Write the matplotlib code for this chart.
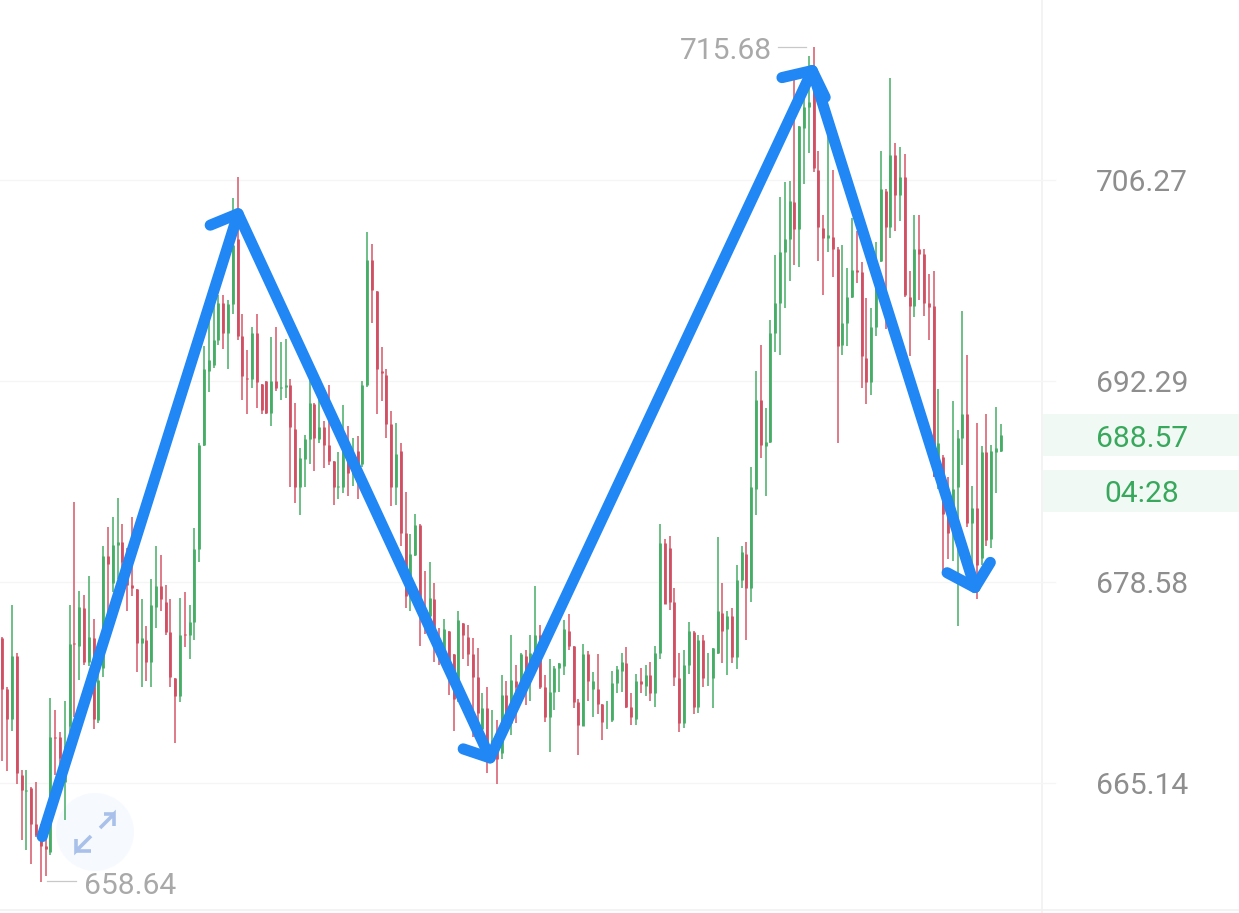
"""
Candlestick chart with hand-drawn zigzag arrows on a log price axis.
"""

import numpy as np
import matplotlib
matplotlib.use("Agg")
from matplotlib import pyplot as plt
from matplotlib.patches import Circle, Rectangle

opens = [
    674.8, 671.4, 669.4, 673.6, 665.7, 664.6, 664.8, 662.4, 661.6, 661.0,
    660.6, 668.2, 668.2, 665.2, 668.9, 674.5, 674.3, 676.8, 673.2, 674.8,
    669.3, 672.8, 680.3, 678.5, 681.1, 681.3, 679.9, 678.4, 678.1, 674.5,
    674.7, 673.2, 676.9, 678.3, 677.2, 675.2, 672.1, 670.9, 675.1, 675.0,
    675.9, 680.8, 687.9, 693.0, 693.4, 695.1, 697.7, 695.6, 697.6, 702.1,
    695.4, 692.5, 692.4, 695.6, 692.1, 692.3, 690.1, 692.3, 691.8, 691.9,
    692.0, 689.0, 685.0, 686.9, 688.3, 690.7, 688.3, 689.1, 687.9, 686.8,
    685.0, 685.0, 687.0, 685.9, 687.5, 686.6, 692.0, 700.7, 698.5, 693.0,
    692.7, 689.3, 685.0, 687.5, 681.9, 677.6, 680.4, 682.4, 676.7, 676.3,
    677.4, 674.4, 673.6, 675.3, 673.7, 670.9, 675.8, 674.9, 673.7, 672.2,
    668.7, 670.1, 667.8, 667.8, 667.1, 671.0, 669.1, 671.9, 671.7, 673.6,
    672.3, 673.8, 675.0, 671.5, 669.5, 671.2, 672.8, 672.9, 675.3, 674.3,
    670.5, 668.9, 673.7, 671.4, 671.4, 670.4, 669.3, 669.3, 671.8, 672.6,
    673.1, 670.2, 669.4, 671.9, 671.6, 672.3, 671.1, 673.8, 681.2, 680.9,
    677.2, 672.1, 669.1, 673.0, 675.2, 670.2, 674.7, 672.1, 672.1, 673.8,
    676.5, 675.4, 676.3, 673.5, 678.7, 680.5, 678.2, 684.9, 691.0, 687.8,
    688.1, 695.6, 697.7, 701.2, 702.1, 704.7, 702.8, 709.9, 711.4, 712.9,
    707.0, 702.9, 702.2, 702.3, 701.4, 694.8, 696.3, 698.1, 700.0, 699.8,
    693.9, 692.2, 696.0, 700.6, 705.5, 703.0, 708.0, 705.2, 706.5, 698.1,
    697.5, 701.4, 701.1, 697.7, 697.5, 685.9, 687.1, 683.2, 681.9, 685.0,
    688.4, 690.0, 682.6, 683.6, 680.2, 687.4, 681.5, 687.4, 687.5,
]
closes = [
    671.4, 669.4, 673.6, 665.8, 664.7, 664.7, 662.4, 661.7, 661.0, 660.8,
    668.2, 668.1, 666.8, 667.6, 674.4, 674.4, 676.9, 673.2, 674.9, 669.4,
    672.0, 680.3, 679.8, 681.1, 681.3, 679.9, 678.4, 678.2, 674.5, 674.8,
    673.2, 677.0, 678.3, 677.4, 675.2, 672.2, 670.9, 675.0, 675.0, 675.9,
    680.8, 687.9, 693.1, 693.7, 695.1, 697.7, 695.6, 697.6, 701.7, 695.4,
    692.6, 692.4, 695.6, 692.2, 690.3, 690.1, 692.3, 691.8, 691.9, 692.0,
    689.1, 685.0, 687.0, 688.3, 690.8, 688.4, 689.1, 687.9, 686.8, 685.0,
    685.1, 687.9, 686.0, 687.3, 685.4, 692.0, 700.7, 698.6, 693.1, 692.8,
    689.3, 685.0, 687.3, 681.9, 677.6, 680.5, 682.4, 676.7, 676.3, 677.5,
    674.4, 673.6, 675.4, 672.4, 670.7, 676.0, 675.0, 673.7, 672.2, 669.8,
    670.1, 667.8, 668.0, 666.7, 671.0, 669.6, 672.0, 671.5, 673.7, 672.3,
    673.8, 675.0, 671.5, 669.5, 671.2, 672.8, 673.1, 675.4, 674.3, 670.5,
    669.0, 673.7, 671.9, 671.9, 670.4, 669.2, 669.3, 671.8, 672.7, 673.2,
    670.2, 669.5, 671.9, 671.7, 672.3, 671.1, 673.8, 681.2, 677.1, 677.2,
    672.2, 669.1, 673.0, 675.3, 670.2, 674.7, 672.1, 672.1, 674.1, 676.6,
    675.3, 676.3, 673.5, 678.7, 680.6, 678.2, 685.0, 691.0, 687.9, 688.1,
    695.6, 697.7, 701.2, 702.1, 704.8, 702.8, 710.1, 711.4, 711.8, 707.1,
    703.0, 702.2, 702.4, 701.4, 694.7, 696.3, 698.1, 700.0, 699.8, 694.0,
    692.2, 696.0, 698.7, 705.6, 703.0, 708.0, 705.2, 706.5, 698.2, 697.5,
    701.4, 701.1, 697.7, 697.4, 685.8, 688.0, 683.2, 681.9, 684.9, 688.4,
    690.0, 682.6, 683.6, 679.7, 687.4, 681.4, 687.5, 687.7, 688.57,
]
highs = [
    674.9, 671.5, 677.0, 673.8, 666.0, 666.0, 664.9, 665.2, 662.4, 663.3,
    670.8, 670.0, 668.5, 670.6, 677.0, 684.0, 678.0, 677.7, 679.0, 676.1,
    672.9, 681.0, 682.3, 683.0, 684.3, 682.5, 680.9, 683.0, 678.1, 677.4,
    675.6, 678.8, 681.0, 680.4, 678.4, 677.4, 672.1, 677.5, 677.9, 677.0,
    682.2, 688.0, 694.7, 696.8, 697.7, 698.2, 698.2, 697.9, 705.0, 706.5,
    696.9, 694.4, 696.0, 696.9, 692.1, 692.3, 695.3, 696.0, 695.0, 695.2,
    692.4, 690.8, 687.7, 688.6, 692.8, 690.8, 691.2, 689.5, 692.0, 686.8,
    687.4, 690.6, 689.2, 688.4, 688.5, 692.3, 702.6, 701.8, 698.5, 694.6,
    693.1, 690.2, 689.4, 688.0, 684.7, 681.8, 683.2, 682.5, 679.3, 679.9,
    678.5, 675.5, 676.1, 675.3, 673.7, 676.6, 675.8, 675.7, 674.8, 674.1,
    671.1, 671.5, 670.0, 669.3, 672.3, 671.9, 675.0, 673.0, 673.8, 674.0,
    675.0, 678.3, 675.7, 672.3, 673.4, 672.9, 673.1, 676.0, 676.4, 674.3,
    670.7, 674.4, 673.9, 672.5, 673.7, 670.4, 670.6, 672.6, 672.9, 673.8,
    674.2, 671.1, 672.4, 672.8, 673.0, 673.2, 674.3, 682.5, 681.5, 681.7,
    678.2, 673.8, 674.0, 675.9, 675.3, 675.0, 675.0, 673.8, 674.1, 681.6,
    678.5, 676.6, 676.8, 679.7, 681.0, 681.3, 686.4, 693.0, 694.8, 690.4,
    696.5, 701.0, 705.1, 706.1, 706.2, 713.4, 710.1, 712.1, 715.0, 715.68,
    708.3, 703.8, 709.7, 707.0, 701.6, 701.7, 700.1, 703.6, 702.7, 700.5,
    698.0, 697.3, 701.9, 708.3, 705.6, 713.5, 708.9, 708.6, 708.1, 699.9,
    703.8, 703.8, 701.4, 699.7, 699.9, 691.7, 687.2, 685.7, 690.9, 688.9,
    697.1, 694.1, 685.1, 689.4, 687.8, 690.0, 687.9, 690.5, 689.3,
]
lows = [
    666.6, 665.9, 668.6, 665.1, 661.4, 660.7, 659.8, 661.6, 658.64, 659.0,
    660.4, 665.7, 665.9, 662.7, 668.4, 669.5, 672.0, 673.0, 672.9, 668.7,
    669.1, 672.2, 676.5, 677.9, 678.8, 678.8, 676.6, 677.6, 672.5, 671.5,
    671.9, 671.5, 675.5, 676.6, 675.0, 671.5, 667.8, 670.5, 674.2, 673.4,
    674.7, 679.9, 687.8, 691.5, 693.2, 694.8, 694.5, 693.1, 696.9, 695.1,
    691.0, 690.0, 691.8, 690.4, 690.0, 690.0, 689.2, 691.6, 691.0, 691.1,
    685.0, 683.9, 683.1, 685.0, 686.6, 686.1, 688.0, 686.3, 686.5, 683.8,
    684.2, 684.6, 684.4, 685.1, 684.2, 686.4, 691.9, 696.3, 690.0, 690.9,
    688.4, 683.7, 683.8, 681.0, 676.8, 676.6, 680.3, 674.3, 675.1, 676.1,
    673.2, 673.0, 672.7, 671.0, 668.6, 670.5, 673.4, 672.9, 668.2, 668.0,
    668.2, 665.8, 667.8, 665.1, 666.7, 669.1, 668.3, 669.1, 670.7, 670.3,
    670.6, 672.7, 671.4, 669.2, 667.2, 670.0, 671.2, 672.3, 674.0, 670.1,
    667.0, 668.9, 670.6, 669.5, 669.7, 668.0, 668.7, 669.2, 671.1, 671.2,
    670.1, 669.0, 669.0, 671.1, 670.9, 670.6, 670.2, 673.4, 677.1, 676.7,
    671.6, 668.5, 668.8, 672.4, 669.7, 669.8, 671.5, 671.6, 670.1, 673.7,
    673.1, 672.3, 673.1, 672.7, 678.2, 674.7, 677.2, 683.1, 687.0, 684.4,
    688.0, 694.3, 694.1, 697.3, 699.2, 700.3, 700.2, 706.0, 708.2, 706.85,
    700.6, 698.2, 701.2, 699.5, 688.0, 694.1, 694.7, 698.0, 699.1, 691.8,
    690.7, 691.3, 695.4, 700.5, 695.9, 702.2, 702.7, 703.4, 698.1, 694.0,
    696.7, 697.9, 696.8, 695.1, 685.7, 684.9, 679.2, 680.1, 680.0, 675.6,
    686.5, 682.3, 679.7, 677.4, 679.7, 681.0, 680.9, 684.6, 687.4,
]

tick_prices = [706.27, 692.29, 678.58, 665.14]
tick_labels = ["706.27", "692.29", "678.58", "665.14"]
last_price = "688.57"
countdown = "04:28"

# Hand-drawn zigzag and arrow barbs, as (candle index, price)
zigzag_x = [8.3, 49.1, 101.6, 168.7, 202.6]
zigzag_y = [661.6, 703.9, 666.8, 714.0, 678.2]
barbs = [
    [(43.3, 703.1), (49.1, 703.9)],
    [(96.0, 667.4), (101.6, 666.8)],
    [(162.4, 713.5), (168.7, 714.0), (171.4, 712.1)],
    [(196.8, 679.2), (202.6, 678.2), (205.8, 679.9)],
]

GREEN = "#45ad65"
RED = "#d04f62"
WICK_GREEN = "#55b372"
WICK_RED = "#da6474"
BLUE = "#2087f5"
GRID = "#f5f5f5"
LABEL = "#8e8e8e"
MUTED = "#a9a9a9"
TEXT_GREEN = "#38a95c"
PANEL = "#f1f9f4"

plt.rcParams["font.family"] = ["Roboto", "DejaVu Sans"]

fig = plt.figure(figsize=(12.39, 9.13), dpi=100)

# Overlay in image pixels for the app chrome that is not data
ui = fig.add_axes([0, 0, 1, 1], zorder=0)
ui.set_xlim(0, 1239)
ui.set_ylim(913, 0)
ui.axis("off")
ui.add_patch(Rectangle((1043, 414), 196, 42, color=PANEL, lw=0))
ui.add_patch(Rectangle((1043, 470), 196, 42, color=PANEL, lw=0))
ui.plot([1042, 1042], [0, 913], color="#f1f1f1", lw=1.2)
ui.plot([0, 1239], [910, 910], color="#f1f1f1", lw=1.2)
ui.add_patch(Circle((95, 832), 39, color="#f6f9fe", lw=0))
ui.plot([100, 114, 114], [828, 814, 826], color="#a9c1ea", lw=2.6,
        solid_capstyle="butt", solid_joinstyle="miter")
ui.plot([104, 114], [814, 814], color="#a9c1ea", lw=2.6, solid_capstyle="butt")
ui.plot([91, 76, 76], [836, 851, 839], color="#a9c1ea", lw=2.6,
        solid_capstyle="butt", solid_joinstyle="miter")
ui.plot([76, 91], [851, 851], color="#a9c1ea", lw=2.6, solid_capstyle="butt")
ui.plot([47, 76], [881, 881], color="#c8c8c8", lw=0.9)
ui.plot([778, 806], [47, 47], color="#c8c8c8", lw=0.9)

ax = fig.add_axes([0, 0, 1, 1], zorder=1)
ax.patch.set_alpha(0)
ax.set_yscale("log")
ax.set_xlim(-0.485, 257.6)
ax.set_ylim(656.59, 719.03)
ax.axis("off")

for price in tick_prices:
    ax.axhline(price, xmin=0, xmax=1055 / 1239, color=GRID, lw=1.0, zorder=1)

x = np.arange(len(opens))
o = np.array(opens)
c = np.array(closes)
up = c >= o
wick_colors = [WICK_GREEN if u else WICK_RED for u in up]
body_colors = [GREEN if u else RED for u in up]
ax.vlines(x, lows, highs, colors=wick_colors, lw=1.2, capstyle="butt", zorder=2)
ax.vlines(x, np.minimum(o, c), np.maximum(o, c), colors=body_colors, lw=2.0,
          capstyle="butt", zorder=3)

ax.plot(zigzag_x, zigzag_y, color=BLUE, lw=8, solid_capstyle="round",
        solid_joinstyle="round", zorder=5)
for barb in barbs:
    bx, by = zip(*barb)
    ax.plot(bx, by, color=BLUE, lw=8, solid_capstyle="round",
            solid_joinstyle="round", zorder=5)

for price, label in zip(tick_prices, tick_labels):
    ax.text(247.0, price, label, color=LABEL, fontsize=21.6, ha="right",
            va="center_baseline", zorder=6)

ui.text(1142, 436, last_price, color=TEXT_GREEN, fontsize=21.6, ha="center",
        va="center_baseline")
ui.text(1142, 491, countdown, color=TEXT_GREEN, fontsize=21.6, ha="center",
        va="center_baseline")
ui.text(84, 883, "658.64", color=MUTED, fontsize=21.6, ha="left",
        va="center_baseline")
ui.text(772, 48, "715.68", color=MUTED, fontsize=21.6, ha="right",
        va="center_baseline")

fig.savefig("out.png", dpi=100, facecolor="white")
